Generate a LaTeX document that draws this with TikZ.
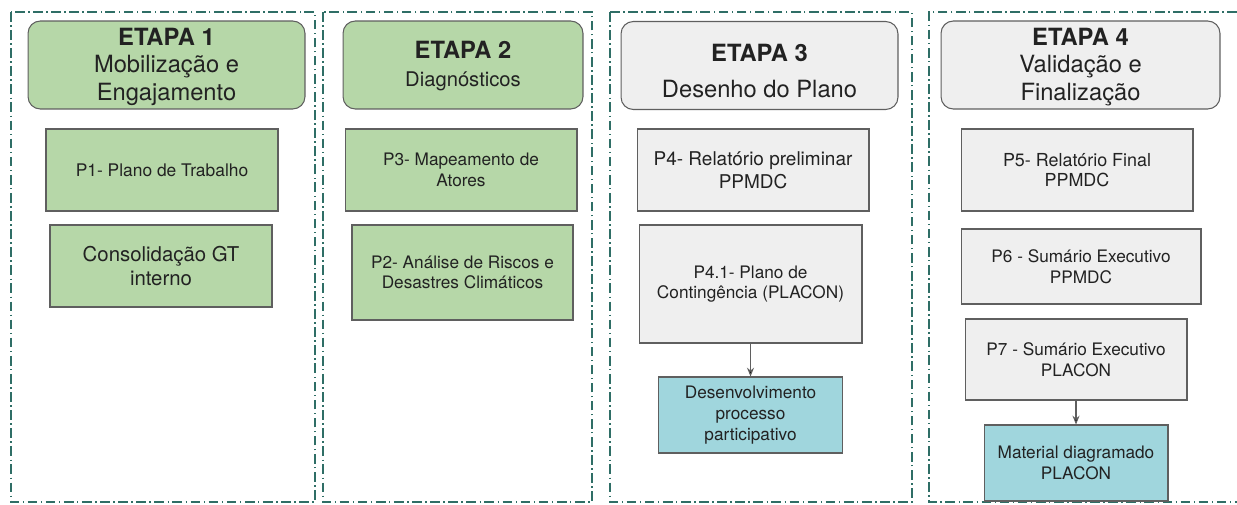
\documentclass[tikz,border=0pt]{standalone}
\usepackage{fontspec}
\setmainfont{TeX Gyre Heros}
\usepackage{tikz}
\usetikzlibrary{arrows.meta}

\definecolor{verde}{HTML}{B6D7A8}
\definecolor{cinza}{HTML}{EFEFEF}
\definecolor{ciano}{HTML}{A0D6DD}
\definecolor{borda}{HTML}{5F5F5F}
\definecolor{tracejado}{HTML}{2F6E66}
\definecolor{texto}{HTML}{222222}

\tikzset{
  coluna/.style={draw=tracejado, line width=0.6pt, dash pattern=on 5.5pt off 2pt on 0.8pt off 2pt},
  etapa/.style={draw=borda, rounded corners=7pt, line width=0.6pt,
    minimum height=1.76cm, inner sep=0pt},
  rotulo/.style={align=center, text=texto, inner sep=0pt, font=\fontsize{13.5}{15.5}\selectfont},
  caixa/.style={draw=borda, line width=0.6pt, align=center, text=texto, inner sep=0pt,
    font=\fontsize{9.8}{11.8}\selectfont},
  seta/.style={-{Stealth[length=5pt,width=4pt]}, draw=borda, line width=0.6pt}
}

\begin{document}
\begin{tikzpicture}[x=0.02cm,y=-0.02cm]
\useasboundingbox (0,0) rectangle (1237,504);

% colunas
\draw[coluna] (11,12) rectangle (315,502);
\draw[coluna] (323,12) rectangle (592,502);
\draw[coluna] (610,12) rectangle (912,502);
\draw[coluna] (1237,12) -- (929,12) -- (929,502) -- (1237,502);

% etapas
\node[etapa, fill=verde, minimum width=5.54cm,
  label={[rotulo, yshift=-1.1pt]center:{\textbf{ETAPA 1}\\Mobilização e\\Engajamento}}](E1) at (166.5,65) {};
\node[etapa, fill=verde, minimum width=4.8cm,
  label={[rotulo, yshift=-0.6pt]center:{\textbf{ETAPA 2}\\{\fontsize{11.5}{14}\selectfont Diagnósticos}}}](E2) at (463,65) {};
\node[etapa, fill=cinza, minimum width=5.54cm,
  label={[rotulo, yshift=-3.4pt]center:{\textbf{ETAPA 3}\\[5pt]Desenho do Plano}}](E3) at (759.5,65.5) {};
\node[etapa, fill=cinza, minimum width=5.58cm,
  label={[rotulo, yshift=-1.1pt]center:{\textbf{ETAPA 4}\\Validação e\\Finalização}}](E4) at (1080.5,65) {};

% etapa 1
\node[caixa, fill=verde, minimum width=4.64cm, minimum height=1.64cm, font=\fontsize{9.9}{11.8}\selectfont](P1) at (162,170) {P1- Plano de Trabalho};
\node[caixa, fill=verde, minimum width=4.44cm, minimum height=1.64cm, font=\fontsize{11.6}{13.5}\selectfont](GT) at (161,266) {Consolidação GT\\interno};

% etapa 2
\node[caixa, fill=verde, minimum width=4.64cm, minimum height=1.64cm](P3) at (461,170) {P3- Mapeamento de\\Atores};
\node[caixa, fill=verde, minimum width=4.42cm, minimum height=1.9cm](P2) at (462.5,272.5) {P2- Análise de Riscos e\\Desastres Climáticos};

% etapa 3
\node[caixa, fill=cinza, minimum width=4.64cm, minimum height=1.64cm, font=\fontsize{10.8}{13}\selectfont](P4) at (753,170) {P4- Relatório preliminar\\PPMDC};
\node[caixa, fill=cinza, minimum width=4.46cm, minimum height=2.36cm](P41) at (750.5,284) {P4.1- Plano de\\Contingência (PLACON)};
\node[caixa, fill=ciano, minimum width=3.68cm, minimum height=1.52cm](DPP) at (750.5,415) {Desenvolvimento\\processo\\participativo};

% etapa 4
\node[caixa, fill=cinza, minimum width=4.64cm, minimum height=1.64cm, font=\fontsize{10.2}{11.8}\selectfont](P5) at (1077,170) {P5- Relatório Final\\PPMDC};
\node[caixa, fill=cinza, minimum width=4.8cm, minimum height=1.5cm](P6) at (1081,266.5) {P6 - Sumário Executivo\\PPMDC};
\node[caixa, fill=cinza, minimum width=4.44cm, minimum height=1.62cm](P7) at (1076,359.5) {P7 - Sumário Executivo\\PLACON};
\node[caixa, fill=ciano, minimum width=3.68cm, minimum height=1.52cm](MD) at (1076,463) {Material diagramado\\PLACON};

\path[seta] (P41) edge (DPP);
\path[seta] (P7) edge (MD);
\end{tikzpicture}
\end{document}
